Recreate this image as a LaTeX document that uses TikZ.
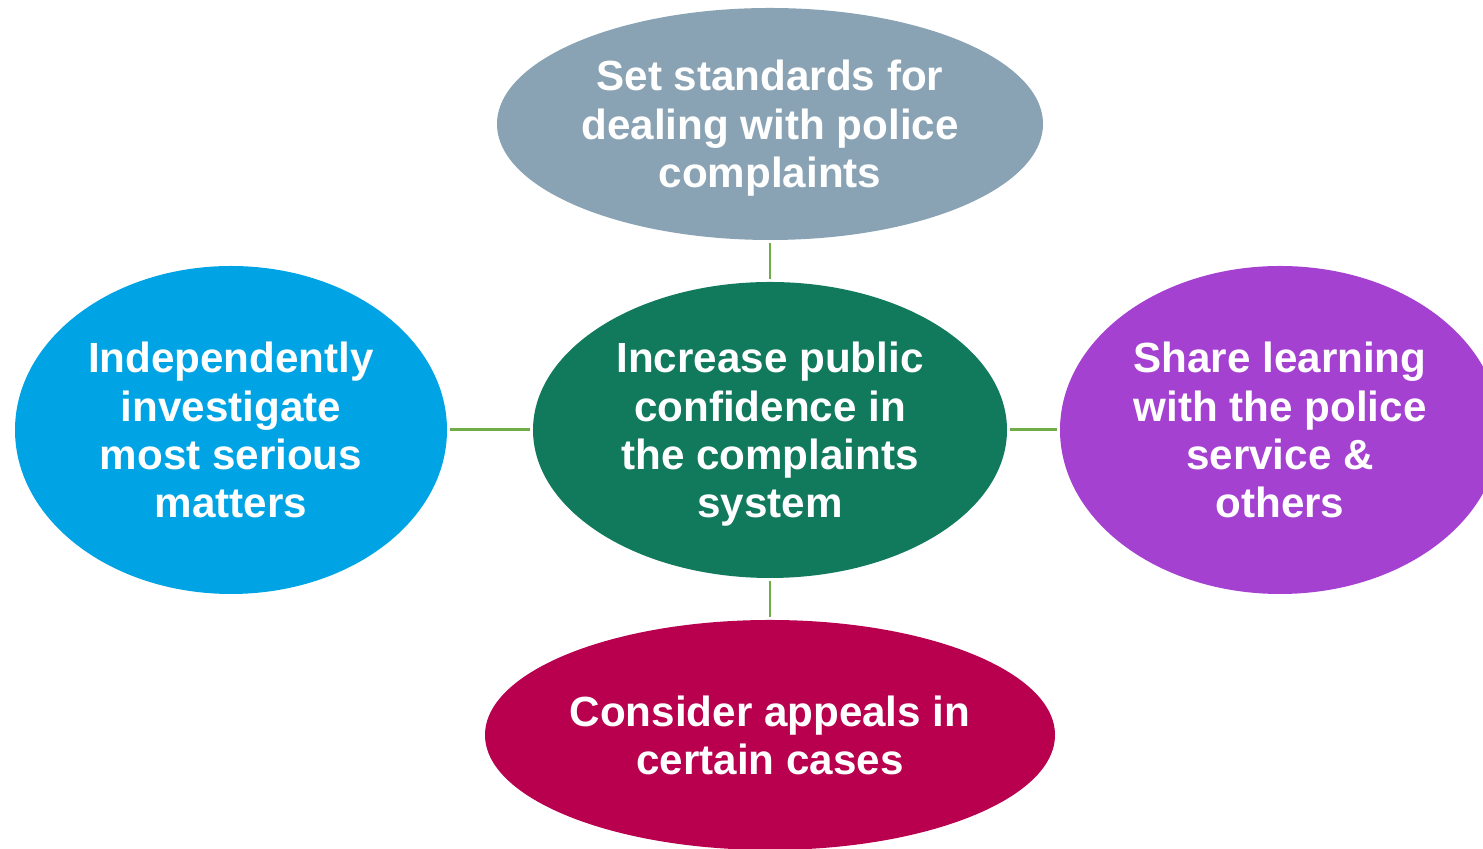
\documentclass[tikz,border=0pt]{standalone}
\usepackage{fontspec}
\setmainfont{Liberation Sans}
\usetikzlibrary{shapes.geometric}
\definecolor{topgray}{HTML}{8AA3B4}
\definecolor{midgreen}{HTML}{117A5D}
\definecolor{leftblue}{HTML}{00A4E4}
\definecolor{rightpurple}{HTML}{A541D1}
\definecolor{bottomred}{HTML}{B8004F}
\definecolor{linkgreen}{HTML}{70AD47}
\begin{document}
\begin{tikzpicture}[
        blob/.style = {ellipse, inner sep = 0pt, text = white, align = center, text depth = 0pt,
            font = \fontsize{24}{27.5}\selectfont\bfseries},
        link/.style = {linkgreen, line width = 1.7pt, shorten <= 0.06cm, shorten >= 0.06cm}
    ]
        \useasboundingbox (0, 0) rectangle (29.66, 16.98);
        \clip (0, 0) rectangle (29.66, 16.98);
        \node[blob, fill = midgreen, minimum width = 9.48cm, minimum height = 5.92cm] (mid) at (15.40, 8.38) {Increase public\\confidence in\\the complaints\\system};
        \node[blob, fill = topgray, minimum width = 10.92cm, minimum height = 4.64cm] (top) at (15.40, 14.50) {Set standards for\\dealing with police\\complaints};
        \node[blob, fill = leftblue, minimum width = 8.64cm, minimum height = 6.56cm] (left) at (4.62, 8.38) {Independently\\investigate\\most serious\\matters};
        \node[blob, fill = rightpurple, minimum width = 8.80cm, minimum height = 6.56cm] (right) at (25.60, 8.38) {Share learning\\with the police\\service \&\\others};
        \node[blob, fill = bottomred, minimum width = 11.40cm, minimum height = 4.60cm] (bottom) at (15.40, 2.28) {Consider appeals in\\certain cases};
        \foreach \n in {top, left, right, bottom}{
            \draw[link] (mid) -- (\n);
        }
    \end{tikzpicture}
\end{document}
